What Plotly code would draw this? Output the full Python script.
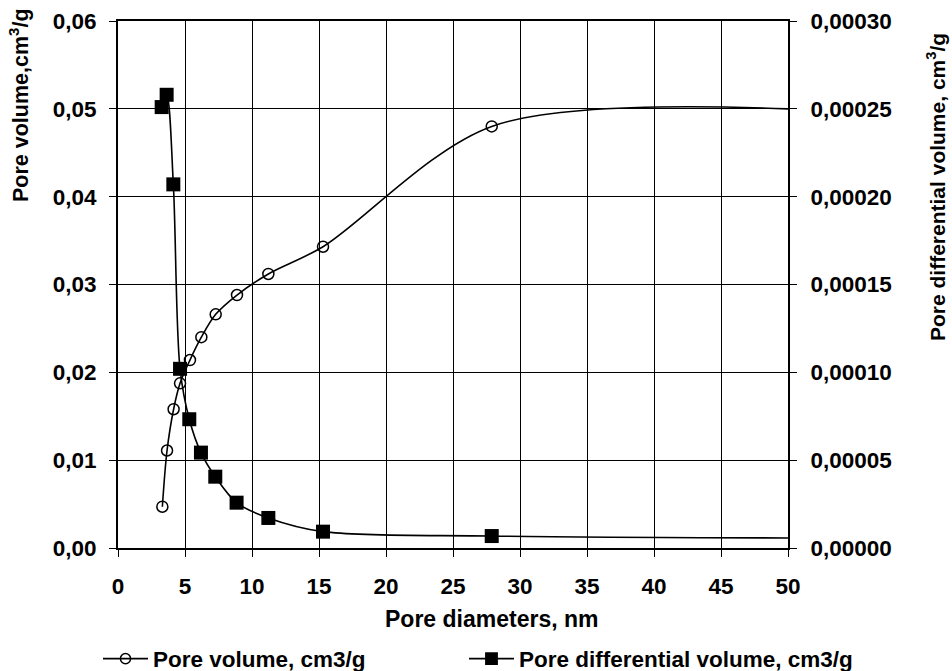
import plotly.graph_objects as go

# Pore volume (left axis); last value is where the line meets the right frame (no marker)
pv_x = [3.31, 3.66, 4.15, 4.63, 5.37, 6.22, 7.29, 8.88, 11.22, 15.3, 27.89, 50.0]
pv_y = [0.0047, 0.0111, 0.0158, 0.01875, 0.0214, 0.0240, 0.0266, 0.0288, 0.0312, 0.0343, 0.0480, 0.0500]

# Pore differential volume (right axis)
dv_x = [3.26, 3.63, 4.13, 4.63, 5.32, 6.19, 7.26, 8.85, 11.22, 15.3, 27.89, 50.0]
dv_y = [0.000251, 0.000258, 0.000207, 0.000102, 0.0000733, 0.0000543, 0.0000406,
        0.0000258, 0.0000171, 0.0000093, 0.0000068, 0.0000057]

x_ticks = [0, 5, 10, 15, 20, 25, 30, 35, 40, 45, 50]
left_ticks = [0.0, 0.01, 0.02, 0.03, 0.04, 0.05, 0.06]
right_ticks = [0.0, 0.00005, 0.0001, 0.00015, 0.0002, 0.00025, 0.0003]

FONT = "Arial, Liberation Sans, sans-serif"
FS = 22.5

pv_sizes = [11] * (len(pv_x) - 1) + [0]
dv_sizes = [14] * (len(dv_x) - 1) + [0]

fig = go.Figure()
fig.add_trace(go.Scatter(
    x=pv_x, y=pv_y, name="Pore volume, cm3/g", mode="lines+markers",
    line=dict(color="black", width=1.6, shape="spline", smoothing=0.9),
    marker=dict(symbol="circle-open", size=pv_sizes, color="black", opacity=1,
                line=dict(width=1.5, color="black")),
    yaxis="y", legend="legend",
))
fig.add_trace(go.Scatter(
    x=dv_x, y=dv_y, name="Pore differential volume, cm3/g", mode="lines+markers",
    line=dict(color="black", width=1.6, shape="spline", smoothing=0.9),
    marker=dict(symbol="square", size=dv_sizes, color="black", opacity=1, line=dict(width=0)),
    yaxis="y2", legend="legend2",
))

axis_font = dict(family=FONT, size=FS, color="black", weight="bold")
xtitle_font = dict(family=FONT, size=23, color="black", weight="bold")
ltitle_font = dict(family=FONT, size=21.5, color="black", weight="bold")
rtitle_font = dict(family=FONT, size=21, color="black", weight="bold")

fig.update_layout(
    width=952, height=671,
    margin=dict(l=118, r=164, t=21, b=123, autoexpand=False),
    paper_bgcolor="white", plot_bgcolor="white",
    separators=", ",
    font=dict(family=FONT, size=FS, color="black", weight="bold"),
    xaxis=dict(
        range=[0, 50], tickvals=x_ticks, ticktext=[str(v) for v in x_ticks],
        showgrid=True, gridcolor="black", gridwidth=1,
        showline=True, linecolor="black", linewidth=2, mirror=True,
        ticks="outside", ticklen=7, tickcolor="black", tickwidth=1,
        tickfont=axis_font, ticklabelstandoff=10, zeroline=False,
    ),
    yaxis=dict(
        range=[0, 0.06], tickvals=left_ticks, tickformat=".2f",
        showgrid=True, gridcolor="black", gridwidth=1,
        showline=True, linecolor="black", linewidth=2,
        ticks="outside", ticklen=7, tickcolor="black", tickwidth=1,
        tickfont=axis_font, ticklabelstandoff=8, zeroline=False,
    ),
    yaxis2=dict(
        range=[0, 0.0003], tickvals=right_ticks, tickformat=".5f",
        overlaying="y", side="right", showgrid=False,
        showline=True, linecolor="black", linewidth=2,
        ticks="outside", ticklen=7, tickcolor="black", tickwidth=1,
        tickfont=axis_font, ticklabelstandoff=9, zeroline=False,
    ),
    legend=dict(
        orientation="h", xref="container", yref="container",
        x=98 / 952, y=(671 - 659) / 671, xanchor="left", yanchor="middle",
        itemwidth=45,
        font=dict(family=FONT, size=FS, color="black", weight="bold"),
        bgcolor="rgba(0,0,0,0)", borderwidth=0,
    ),
    legend2=dict(
        orientation="h", xref="container", yref="container",
        x=464 / 952, y=(671 - 659) / 671, xanchor="left", yanchor="middle",
        itemwidth=45,
        font=dict(family=FONT, size=FS, color="black", weight="bold"),
        bgcolor="rgba(0,0,0,0)", borderwidth=0,
    ),
    showlegend=True,
    annotations=[
        dict(text="Pore diameters, nm", xref="paper", yref="paper",
             x=(491 - 118) / 670, y=(548 - 619) / 527, xanchor="center", yanchor="middle",
             showarrow=False, font=xtitle_font),
        dict(text="Pore volume,cm<sup>3</sup>/g", xref="paper", yref="paper",
             x=(19 - 118) / 670, y=(548 - 105) / 527, xanchor="center", yanchor="middle",
             textangle=-90, showarrow=False, font=ltitle_font),
        dict(text="Pore differential volume, cm<sup>3</sup>/g", xref="paper", yref="paper",
             x=(936 - 118) / 670, y=(548 - 187) / 527, xanchor="center", yanchor="middle",
             textangle=-90, showarrow=False, font=rtitle_font),
    ],
)

fig.write_html("out.html")
